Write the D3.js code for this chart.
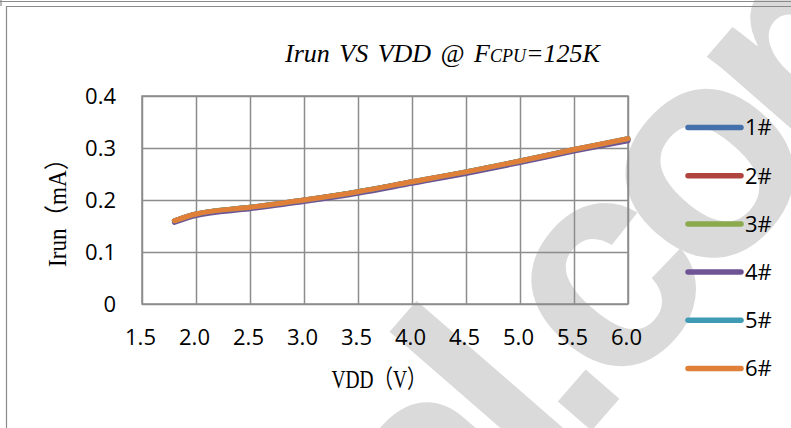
<!DOCTYPE html>
<html>
<head>
<meta charset="utf-8">
<script src="https://cdn.jsdelivr.net/npm/d3@7"></script>
<style>
  html, body { margin: 0; padding: 0; background: #fff; }
  svg { display: block; }
</style>
</head>
<body>
<svg id="chart" width="791" height="428"></svg>
<script>
// supply voltage (V)
const vdd = [1.8, 2.0, 2.5, 3.0, 3.5, 4.0, 4.5, 5.0, 5.5, 6.0]

// running current (mA) for each sample
const irun1 = [0.160, 0.172, 0.186, 0.199, 0.216, 0.234, 0.254, 0.274, 0.296, 0.317]
const irun2 = [0.160, 0.173, 0.185, 0.200, 0.215, 0.235, 0.253, 0.275, 0.297, 0.317]
const irun3 = [0.159, 0.172, 0.186, 0.199, 0.216, 0.234, 0.254, 0.275, 0.296, 0.318]
const irun4 = [0.157, 0.170, 0.183, 0.197, 0.213, 0.232, 0.251, 0.272, 0.294, 0.314]
const irun5 = [0.160, 0.173, 0.186, 0.200, 0.216, 0.235, 0.254, 0.275, 0.297, 0.318]
const irun6 = [0.160, 0.173, 0.186, 0.200, 0.216, 0.235, 0.254, 0.275, 0.297, 0.318]

const seriesNames = ["1#", "2#", "3#", "4#", "5#", "6#"]
const seriesColors = ["#4470ab", "#b0443f", "#8aaa4d", "#6e5494", "#3f9ab3", "#e08038"]

const xTicks = [1.5, 2.0, 2.5, 3.0, 3.5, 4.0, 4.5, 5.0, 5.5, 6.0]
const yTicks = [0, 0.1, 0.2, 0.3, 0.4]

const series = [irun1, irun2, irun3, irun4, irun5, irun6].map((vals, i) => ({
    name: seriesNames[i],
    color: seriesColors[i],
    points: vals.map((v, j) => ({ x: vdd[j], y: v }))
}))

const plot = { left: 142, right: 628, top: 96, bottom: 304 }
const tickFont = "'Open Sans', Lato, sans-serif"
const gridColor = "#8c8c8c"

const svg = d3.select("#chart")

// watermark behind the chart
svg.append("g")
    .attr("transform", "translate(540,490) rotate(-49)")
    .append("text")
    .attr("x", -142)
    .attr("font-family", "'Liberation Sans', Arial, sans-serif")
    .attr("font-weight", "bold")
    .attr("font-size", 300)
    .attr("letter-spacing", -25)
    .attr("fill", "#dadada")
    .text("al.com")

// page frame
svg.append("path")
    .attr("d", "M0,1.5H791M1,0V6M6.5,428V6.5H791")
    .attr("fill", "none")
    .attr("stroke", "#8a8a8a")
    .attr("stroke-width", 1.2)

const x = d3.scaleLinear().domain([1.5, 6]).range([plot.left, plot.right])
const y = d3.scaleLinear().domain([0, 0.4]).range([plot.bottom, plot.top])

const xAxis = d3.axisBottom(x)
    .tickValues(xTicks)
    .tickFormat(d3.format(".1f"))
    .tickSizeInner(-(plot.bottom - plot.top))
    .tickSizeOuter(0)
    .tickPadding(27)

const yAxis = d3.axisLeft(y)
    .tickValues(yTicks)
    .tickFormat(d => d === 0 ? "0" : d3.format(".1f")(d))
    .tickSizeInner(-(plot.right - plot.left))
    .tickSizeOuter(0)
    .tickPadding(26)

const gx = svg.append("g")
    .attr("transform", `translate(0,${plot.bottom})`)
    .call(xAxis)

const gy = svg.append("g")
    .attr("transform", `translate(${plot.left},0)`)
    .call(yAxis)

;[gx, gy].forEach(g => {
    g.select(".domain").remove()
    g.selectAll(".tick line")
        .attr("stroke", gridColor)
        .attr("stroke-width", 1.5)
    g.selectAll(".tick text")
        .attr("fill", "#000")
        .style("font-family", tickFont)
        .style("font-size", "22px")
})
gx.selectAll(".tick text").attr("dx", -2).attr("dy", "0.62em")

svg.append("rect")
    .attr("x", plot.left)
    .attr("y", plot.top)
    .attr("width", plot.right - plot.left)
    .attr("height", plot.bottom - plot.top)
    .attr("fill", "none")
    .attr("stroke", gridColor)
    .attr("stroke-width", 1.5)

// series lines, 6# ends up on top
const line = d3.line()
    .x(d => x(d.x))
    .y(d => y(d.y))
    .curve(d3.curveMonotoneX)

svg.append("g")
    .selectAll("path")
    .data(series)
    .join("path")
    .attr("d", d => line(d.points))
    .attr("fill", "none")
    .attr("stroke", d => d.color)
    .attr("stroke-width", 5)
    .attr("stroke-linecap", "round")
    .attr("stroke-linejoin", "round")

// legend
const legendY = d3.scalePoint().domain(seriesNames).range([127.5, 368.5])

const legend = svg.append("g")
    .selectAll("g")
    .data(series)
    .join("g")
    .attr("transform", d => `translate(0,${legendY(d.name)})`)

legend.append("line")
    .attr("x1", 688)
    .attr("x2", 741)
    .attr("stroke", d => d.color)
    .attr("stroke-width", 5.5)
    .attr("stroke-linecap", "round")

legend.append("text")
    .attr("x", 745)
    .attr("dy", "0.36em")
    .style("font-family", tickFont)
    .style("font-size", "22px")
    .text(d => d.name)

// title
const title = svg.append("text")
    .attr("x", 285)
    .attr("y", 61.5)
    .style("font-family", "'Liberation Serif', 'Times New Roman', serif")
    .style("font-style", "italic")
    .style("font-size", "26px")
    .style("word-spacing", "3px")

title.append("tspan").text("Irun VS VDD @ F")
title.append("tspan").style("font-size", "18px").text("CPU")
title.append("tspan").text("=125K")

// axis titles
svg.append("text")
    .attr("x", 379)
    .attr("y", 388)
    .attr("text-anchor", "middle")
    .attr("textLength", 95)
    .attr("lengthAdjust", "spacingAndGlyphs")
    .style("font-family", "'Liberation Serif', 'Noto Sans CJK SC', serif")
    .style("font-size", "25px")
    .text("VDD（V）")

svg.append("text")
    .attr("transform", "translate(66,207) rotate(-90)")
    .attr("text-anchor", "middle")
    .attr("textLength", 120)
    .attr("lengthAdjust", "spacingAndGlyphs")
    .style("font-family", "'Liberation Serif', 'Noto Sans CJK SC', serif")
    .style("font-size", "25px")
    .text("Irun（mA）")
</script>
</body>
</html>
